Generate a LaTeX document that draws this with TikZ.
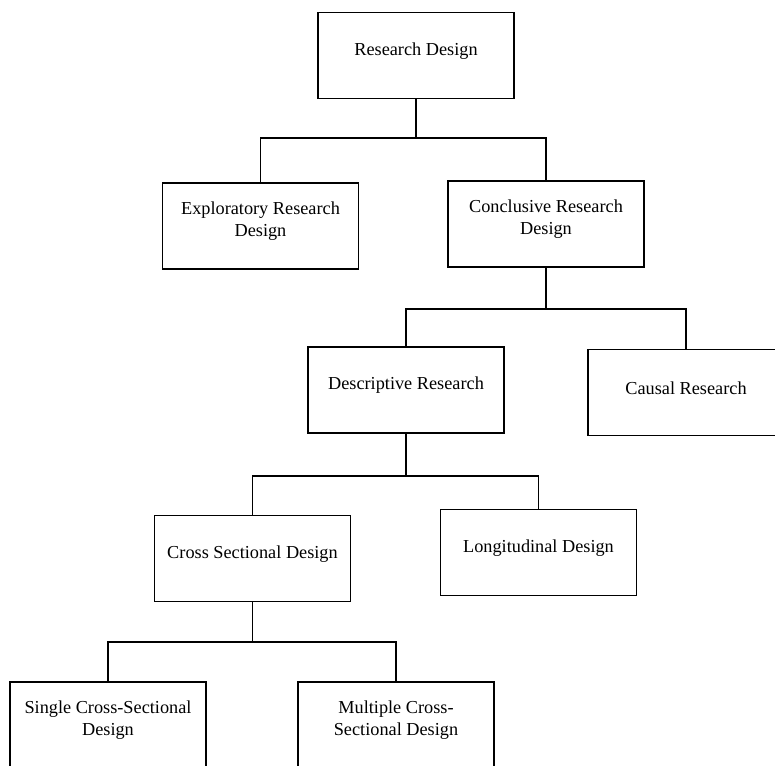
\documentclass[tikz,border=0pt]{standalone}
\usepackage{fontspec}
\setmainfont{Liberation Serif}
\usepackage{tikz}
\tikzstyle{block}=[draw, rectangle, line width=.9pt, minimum width=3.92cm, minimum height=1.72cm, inner sep=0pt]
\tikzstyle{txt}=[draw=none, align=center, anchor=center, inner sep=0pt, yshift=.09cm, font=\fontsize{10.4}{12.5}\selectfont]
\tikzstyle{link}=[line width=.9pt]

\begin{document}
\begin{tikzpicture}[x=0.02cm, y=-0.02cm, label distance=0pt]
\clip (0,0) rectangle (775,766);
\node[block, label={[txt]center:Research Design}] (rd) at (416,55.5) {};
\node[block, label={[txt]center:Exploratory Research\\Design}] (expl) at (260.5,226) {};
\node[block, label={[txt]center:Conclusive Research\\Design}] (concl) at (546,224) {};
\node[block, label={[txt]center:Descriptive Research}] (desc) at (406,390) {};
\node[block, label={[txt]center:Causal Research}] (causal) at (686,392.5) {};
\node[block, label={[txt]center:Cross Sectional Design}] (cross) at (252.5,558.5) {};
\node[block, label={[txt]center:Longitudinal Design}] (longi) at (538.5,552.5) {};
\node[block, label={[txt]center:Single Cross-Sectional\\Design}] (single) at (108,725) {};
\node[block, label={[txt]center:Multiple Cross-\\Sectional Design}] (multi) at (396,725) {};
% branch points
\coordinate (b1) at (412,138);
\coordinate (b2) at (548,309);
\coordinate (b3) at (402,476);
\coordinate (b4) at (250,642);
\foreach \p/\b/\l/\r in {rd/b1/expl/concl, concl/b2/desc/causal, desc/b3/cross/longi, cross/b4/single/multi} {
  \draw[link] (\p.south) |- (\b);
  \draw[link] (\l.north) |- (\b) -| (\r.north);
}
\end{tikzpicture}
\end{document}
